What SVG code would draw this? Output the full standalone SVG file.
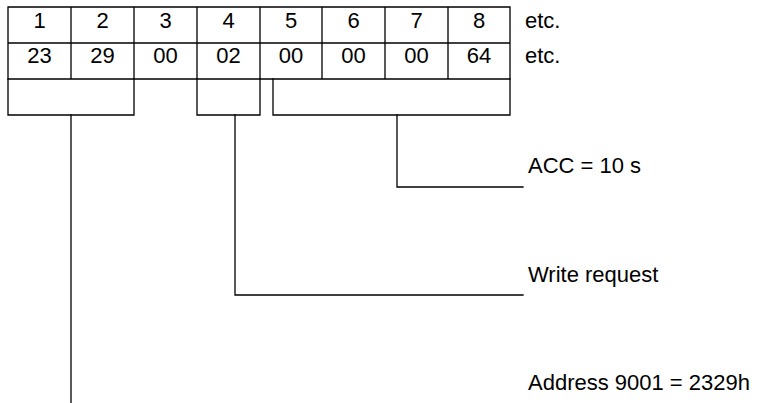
<svg xmlns="http://www.w3.org/2000/svg" width="760" height="403" viewBox="0 0 760 403">
<style>
.ln{fill:none;stroke:#000;stroke-width:1.3;stroke-linecap:square}
.t{font-family:"Liberation Sans",Arial,sans-serif;font-size:22px;fill:#000}
.c{text-anchor:middle}
</style>
<rect width="760" height="403" fill="#fff"/>
<g id="table">
<path class="ln" d="M8,7H510V79H8Z M8,43H510 M71,7V79 M134,7V79 M197,7V79 M260,7V79 M322,7V79 M385,7V79 M448,7V79"/>
<g class="t c">
<text x="39.5" y="28">1</text><text x="102.5" y="28">2</text><text x="165.5" y="28">3</text><text x="228.5" y="28">4</text>
<text x="291" y="28">5</text><text x="353.5" y="28">6</text><text x="416.5" y="28">7</text><text x="479" y="28">8</text>
<text x="39.5" y="63">23</text><text x="102.5" y="63">29</text><text x="165.5" y="63">00</text><text x="228.5" y="63">02</text>
<text x="291" y="63">00</text><text x="353.5" y="63">00</text><text x="416.5" y="63">00</text><text x="479" y="63">64</text>
</g>
<text class="t" x="525" y="28">etc.</text>
<text class="t" x="525" y="63">etc.</text>
</g>
<g id="group-address">
<path class="ln" d="M8,79V115H134V79"/>
</g>
<g id="group-write">
<path class="ln" d="M197,79V115H260V79"/>
</g>
<g id="group-acc">
<path class="ln" d="M273,79V115H510V79"/>
</g>
<g id="connectors">
<path class="ln" d="M71,115V403"/>
<path class="ln" d="M235,115V295H523"/>
<path class="ln" d="M397,115V187H523"/>
</g>
<g id="labels">
<text class="t" x="528" y="173">ACC = 10 s</text>
<text class="t" x="528" y="282">Write request</text>
<text class="t" x="528" y="390">Address 9001 = 2329h</text>
</g>
</svg>
